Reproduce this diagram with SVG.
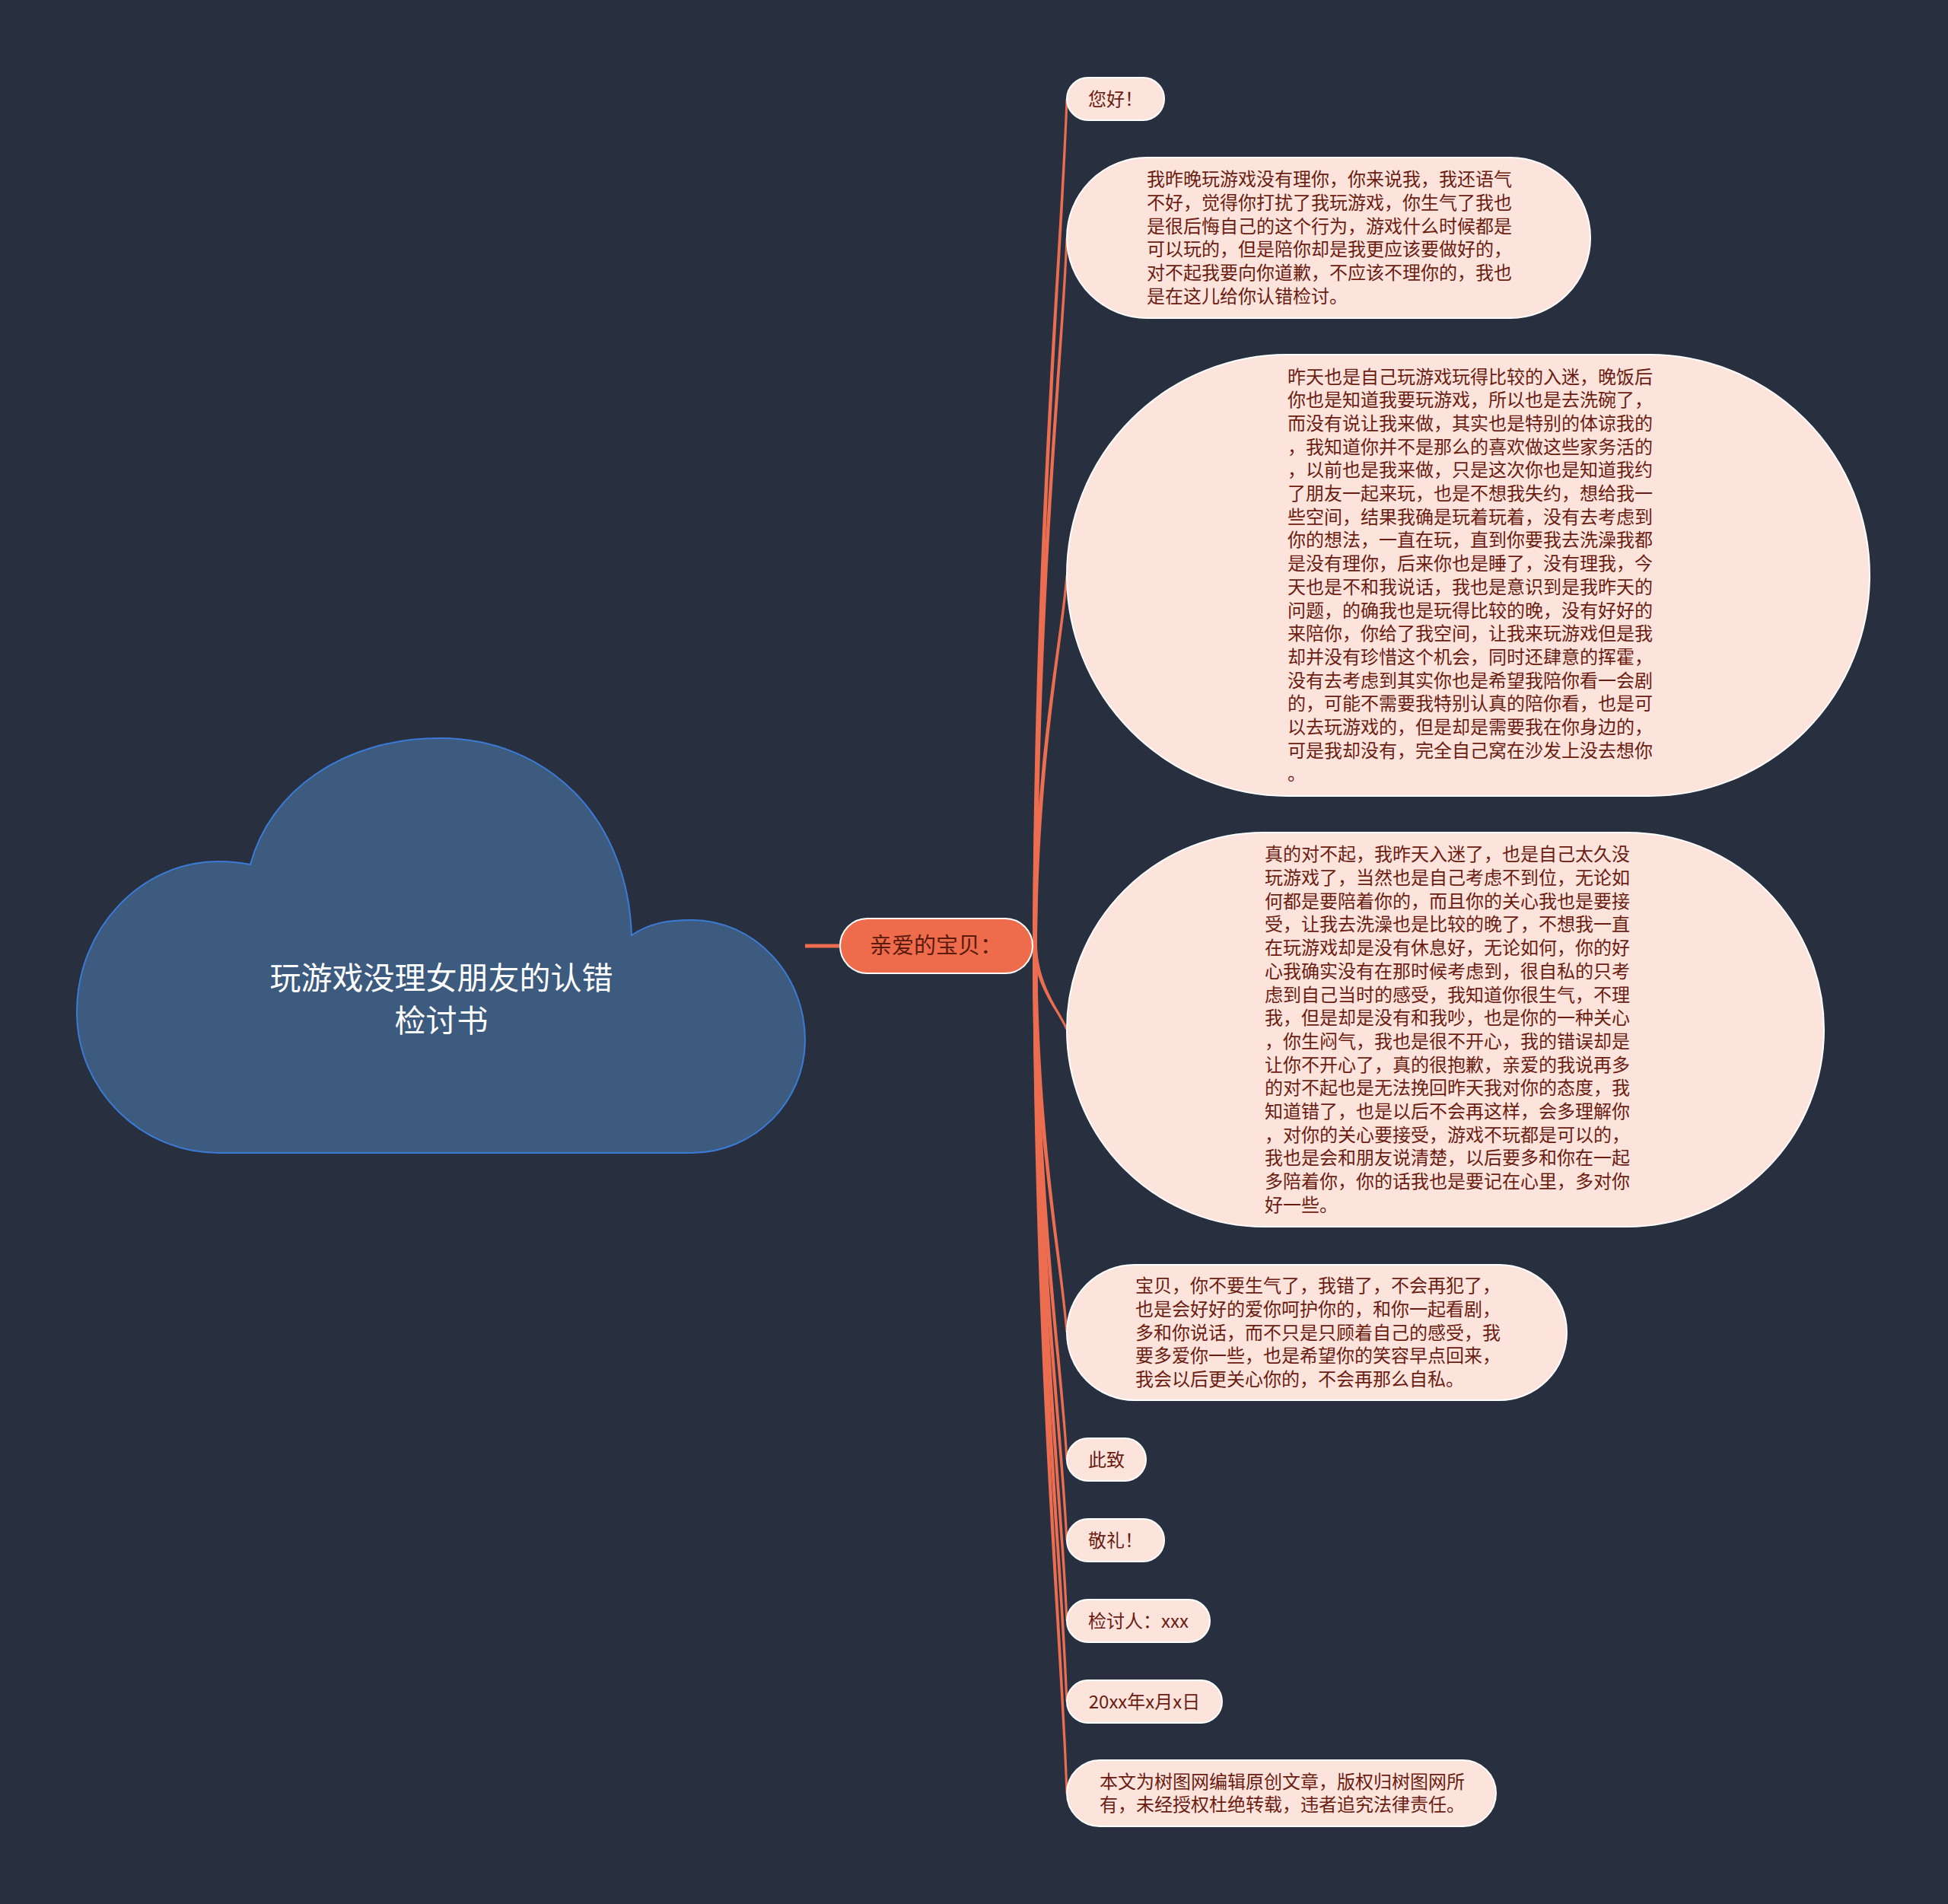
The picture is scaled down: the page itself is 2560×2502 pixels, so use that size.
<svg xmlns="http://www.w3.org/2000/svg" width="2560" height="2502" viewBox="0 0 2560 2502">
<style>
.bg{fill:#283040}
.leaf{fill:#fce3dc;stroke:#ffffff;stroke-width:2}
.lt{font-family:"Noto Sans CJK SC","Noto Sans",sans-serif;font-size:24px;fill:#6b1d12}
.conn{fill:#ec6d4f;stroke:none}
</style>
<rect class="bg" x="0" y="0" width="2560" height="2502"/>
<g id="connectors">
<line x1="1058" y1="1243" x2="1106" y2="1243" stroke="#ec6d4f" stroke-width="5"/>
<path class="conn" d="M1357,1243 C1359.5,686.5 1392,352.6 1400.5,130 L1403.5,130 C1396,352.6 1364.5,686.5 1363,1243 Z"/>
<path class="conn" d="M1357,1243 C1359.5,777.75 1392,498.6 1400.5,312.5 L1403.5,312.5 C1396,498.6 1364.5,777.75 1363,1243 Z"/>
<path class="conn" d="M1357,1243 C1359.5,999.5 1392,853.4 1400.5,756 L1403.5,756 C1396,853.4 1364.5,999.5 1363,1243 Z"/>
<path class="conn" d="M1357,1243 C1359.5,1298 1392,1331 1400.5,1353 L1403.5,1353 C1396,1331 1364.5,1298 1363,1243 Z"/>
<path class="conn" d="M1357,1243 C1359.5,1497 1392,1649.4 1400.5,1751 L1403.5,1751 C1396,1649.4 1364.5,1497 1363,1243 Z"/>
<path class="conn" d="M1357,1243 C1359.5,1580.5 1392,1783 1400.5,1918 L1403.5,1918 C1396,1783 1364.5,1580.5 1363,1243 Z"/>
<path class="conn" d="M1357,1243 C1359.5,1633.5 1392,1867.8 1400.5,2024 L1403.5,2024 C1396,1867.8 1364.5,1633.5 1363,1243 Z"/>
<path class="conn" d="M1357,1243 C1359.5,1686.5 1392,1952.6 1400.5,2130 L1403.5,2130 C1396,1952.6 1364.5,1686.5 1363,1243 Z"/>
<path class="conn" d="M1357,1243 C1359.5,1739.5 1392,2037.4 1400.5,2236 L1403.5,2236 C1396,2037.4 1364.5,1739.5 1363,1243 Z"/>
<path class="conn" d="M1357,1243 C1359.5,1799.75 1392,2133.8 1400.5,2356.5 L1403.5,2356.5 C1396,2133.8 1364.5,1799.75 1363,1243 Z"/>
</g>
<g id="root">
<path d="M287,1515 C185,1515 101,1432 101,1330 C101,1221 185,1132 287,1132 C305,1132 318,1134 329,1136 C355,1040 450,970 578,970 C720,970 825,1075 830,1229 C855,1212 880,1209 909,1209 C991,1209 1058,1280 1058,1367 C1058,1448 991,1515 909,1515 Z" fill="#3d5a7f" stroke="#3b7bd8" stroke-width="2"/>
<text font-family="Noto Sans CJK SC, Noto Sans, sans-serif" font-size="41" fill="#ffffff" text-anchor="middle"><tspan x="580" y="1300">玩游戏没理女朋友的认错</tspan><tspan x="580" y="1356">检讨书</tspan></text>
</g>
<g id="main">
<rect x="1104" y="1207" width="253" height="72" rx="36" fill="#ee6b4b" stroke="#ffffff" stroke-width="2"/>
<text x="1230" y="1253" font-family="Noto Sans CJK SC, Noto Sans, sans-serif" font-size="29" fill="#5a1a0c" text-anchor="middle">亲爱的宝贝：</text>
</g>
<g id="n1">
<rect class="leaf" x="1402" y="102" width="128" height="56" rx="28"/>
<text class="lt" x="1466" y="138.5" text-anchor="middle">您好！</text>
</g>
<g id="n2">
<rect class="leaf" x="1402" y="207" width="688" height="211" rx="105.5"/>
<text class="lt" y="244.2"><tspan x="1507">我昨晚玩游戏没有理你，你来说我，我还语气</tspan><tspan x="1507" dy="30.7">不好，觉得你打扰了我玩游戏，你生气了我也</tspan><tspan x="1507" dy="30.7">是很后悔自己的这个行为，游戏什么时候都是</tspan><tspan x="1507" dy="30.7">可以玩的，但是陪你却是我更应该要做好的，</tspan><tspan x="1507" dy="30.7">对不起我要向你道歉，不应该不理你的，我也</tspan><tspan x="1507" dy="30.7">是在这儿给你认错检讨。</tspan></text>
</g>
<g id="n3">
<rect class="leaf" x="1402" y="466" width="1055" height="580" rx="290"/>
<text class="lt" y="503.5"><tspan x="1692">昨天也是自己玩游戏玩得比较的入迷，晚饭后</tspan><tspan x="1692" dy="30.7">你也是知道我要玩游戏，所以也是去洗碗了，</tspan><tspan x="1692" dy="30.7">而没有说让我来做，其实也是特别的体谅我的</tspan><tspan x="1692" dy="30.7">，我知道你并不是那么的喜欢做这些家务活的</tspan><tspan x="1692" dy="30.7">，以前也是我来做，只是这次你也是知道我约</tspan><tspan x="1692" dy="30.7">了朋友一起来玩，也是不想我失约，想给我一</tspan><tspan x="1692" dy="30.7">些空间，结果我确是玩着玩着，没有去考虑到</tspan><tspan x="1692" dy="30.7">你的想法，一直在玩，直到你要我去洗澡我都</tspan><tspan x="1692" dy="30.7">是没有理你，后来你也是睡了，没有理我，今</tspan><tspan x="1692" dy="30.7">天也是不和我说话，我也是意识到是我昨天的</tspan><tspan x="1692" dy="30.7">问题，的确我也是玩得比较的晚，没有好好的</tspan><tspan x="1692" dy="30.7">来陪你，你给了我空间，让我来玩游戏但是我</tspan><tspan x="1692" dy="30.7">却并没有珍惜这个机会，同时还肆意的挥霍，</tspan><tspan x="1692" dy="30.7">没有去考虑到其实你也是希望我陪你看一会剧</tspan><tspan x="1692" dy="30.7">的，可能不需要我特别认真的陪你看，也是可</tspan><tspan x="1692" dy="30.7">以去玩游戏的，但是却是需要我在你身边的，</tspan><tspan x="1692" dy="30.7">可是我却没有，完全自己窝在沙发上没去想你</tspan><tspan x="1692" dy="30.7">。</tspan></text>
</g>
<g id="n4">
<rect class="leaf" x="1402" y="1094" width="995" height="518" rx="259"/>
<text class="lt" y="1131.3"><tspan x="1662">真的对不起，我昨天入迷了，也是自己太久没</tspan><tspan x="1662" dy="30.7">玩游戏了，当然也是自己考虑不到位，无论如</tspan><tspan x="1662" dy="30.7">何都是要陪着你的，而且你的关心我也是要接</tspan><tspan x="1662" dy="30.7">受，让我去洗澡也是比较的晚了，不想我一直</tspan><tspan x="1662" dy="30.7">在玩游戏却是没有休息好，无论如何，你的好</tspan><tspan x="1662" dy="30.7">心我确实没有在那时候考虑到，很自私的只考</tspan><tspan x="1662" dy="30.7">虑到自己当时的感受，我知道你很生气，不理</tspan><tspan x="1662" dy="30.7">我，但是却是没有和我吵，也是你的一种关心</tspan><tspan x="1662" dy="30.7">，你生闷气，我也是很不开心，我的错误却是</tspan><tspan x="1662" dy="30.7">让你不开心了，真的很抱歉，亲爱的我说再多</tspan><tspan x="1662" dy="30.7">的对不起也是无法挽回昨天我对你的态度，我</tspan><tspan x="1662" dy="30.7">知道错了，也是以后不会再这样，会多理解你</tspan><tspan x="1662" dy="30.7">，对你的关心要接受，游戏不玩都是可以的，</tspan><tspan x="1662" dy="30.7">我也是会和朋友说清楚，以后要多和你在一起</tspan><tspan x="1662" dy="30.7">多陪着你，你的话我也是要记在心里，多对你</tspan><tspan x="1662" dy="30.7">好一些。</tspan></text>
</g>
<g id="n5">
<rect class="leaf" x="1402" y="1662" width="657" height="178" rx="89"/>
<text class="lt" y="1698.1"><tspan x="1492">宝贝，你不要生气了，我错了，不会再犯了，</tspan><tspan x="1492" dy="30.7">也是会好好的爱你呵护你的，和你一起看剧，</tspan><tspan x="1492" dy="30.7">多和你说话，而不只是只顾着自己的感受，我</tspan><tspan x="1492" dy="30.7">要多爱你一些，也是希望你的笑容早点回来，</tspan><tspan x="1492" dy="30.7">我会以后更关心你的，不会再那么自私。</tspan></text>
</g>
<g id="n6">
<rect class="leaf" x="1402" y="1890" width="104" height="56" rx="28"/>
<text class="lt" x="1454" y="1926.5" text-anchor="middle">此致</text>
</g>
<g id="n7">
<rect class="leaf" x="1402" y="1996" width="128" height="56" rx="28"/>
<text class="lt" x="1466" y="2032.5" text-anchor="middle">敬礼！</text>
</g>
<g id="n8">
<rect class="leaf" x="1402" y="2102" width="188" height="56" rx="28"/>
<text class="lt" x="1496" y="2138.5" text-anchor="middle">检讨人：xxx</text>
</g>
<g id="n9">
<rect class="leaf" x="1402" y="2208" width="204" height="56" rx="28"/>
<text class="lt" x="1504" y="2244.5" text-anchor="middle">20xx年x月x日</text>
</g>
<g id="n10">
<rect class="leaf" x="1402" y="2313" width="564" height="87" rx="43.5"/>
<text class="lt" y="2349.7"><tspan x="1445">本文为树图网编辑原创文章，版权归树图网所</tspan><tspan x="1445" dy="30.7">有，未经授权杜绝转载，违者追究法律责任。</tspan></text>
</g>
</svg>
